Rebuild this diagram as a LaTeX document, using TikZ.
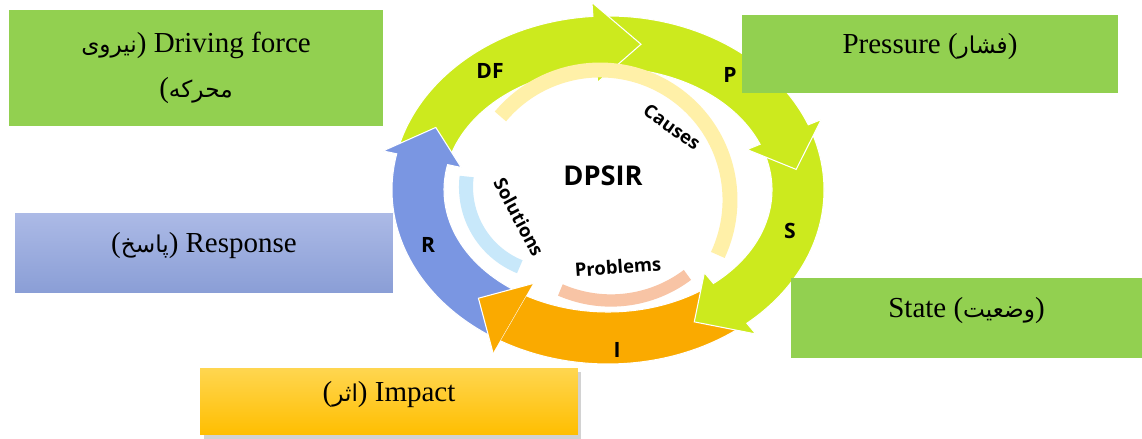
\documentclass[tikz,border=0pt]{standalone}
\usepackage{fontspec}
\setmainfont{Liberation Serif}
\newfontfamily\arabicfont[Script=Arabic,Scale=0.8]{DejaVu Sans}
\newfontfamily\ringfont{Open Sans}
\TeXXeTstate=1
\usetikzlibrary{shadows}
\newcommand{\fatext}[1]{{\arabicfont\beginR #1\endR}}

\definecolor{boxgreen}{RGB}{146,208,80}
\definecolor{ringlime}{RGB}{204,234,30}
\definecolor{ringblue}{RGB}{122,150,226}
\definecolor{ringorange}{RGB}{250,170,0}
\definecolor{causeband}{RGB}{255,240,168}
\definecolor{solveband}{RGB}{200,232,250}
\definecolor{problemband}{RGB}{248,196,165}

\begin{document}
\begin{tikzpicture}[x=0.02cm,y=0.02cm,
  box/.style={inner sep=0pt, align=center, font=\fontsize{16.5}{26}\selectfont},
  oneline/.style={box, text height=0.75em, text depth=0.75em},
  ringarrow/.style={draw=white, line width=0.6pt, line join=miter},
  ringlabel/.style={font=\ringfont\bfseries\fontsize{12}{12}\selectfont},
  innerlabel/.style={font=\ringfont\bfseries\fontsize{10.5}{10.5}\selectfont}]

  \fill[white] (0,0) rectangle (1142,439);
  \useasboundingbox (0,0) rectangle (1142,439);

% the five arrows of the cycle
  \begin{scope}[shift={(608,249)}]
    \foreach \a/\b/\c/\col in {-48/-120/-133/ringorange, 24/-50/-63/ringlime,
        96/22/8/ringlime, 170/94/80/ringlime, 240/168/155/ringblue}
      \filldraw[ringarrow, fill=\col] (\a:216 and 174)
        arc[start angle=\a, end angle=\b, x radius=216, y radius=174]
        -- (\b:230 and 188) -- (\c:190 and 148) -- (\b:150 and 108)
        -- (\b:164 and 122)
        arc[start angle=\b, end angle=\a, x radius=164, y radius=122] -- cycle;
    % head of I lies over the tail of R
    \fill[ringorange] (-120:230 and 188) -- (-133:190 and 148) -- (-120:150 and 108) -- cycle;
    \draw[ringarrow] (-120:230 and 188) -- (-133:190 and 148) -- (-120:150 and 108);
  \end{scope}

% inner bands
  \draw[causeband, line width=8.5pt] (600,239) ++(140:130) arc[start angle=140, end angle=-25, radius=130];
  \draw[solveband, line width=8pt] (552,252) ++(173:86) arc[start angle=173, end angle=248, radius=86];
  \draw[problemband, line width=7pt] (611,265.5) ++(246.5:127) arc[start angle=246.5, end angle=307, radius=127];

% labels on the ring
  \node[ringlabel] (df) at (490,368) {DF};
  \node[ringlabel] (p)  at (730,364) {P};
  \node[ringlabel] (s)  at (790,208) {S};
  \node[ringlabel] (i)  at (617,89)  {I};
  \node[ringlabel] (r)  at (428,194) {R};

  \node[font=\ringfont\bfseries\fontsize{15.5}{15.5}\selectfont] (dpsir) at (603,263) {DPSIR};
  \node[innerlabel, rotate=-35] (causes) at (672,312) {Causes};
  \node[innerlabel, rotate=-62] (solutions) at (519,222) {Solutions};
  \node[innerlabel, rotate=4] (problems) at (618,172) {Problems};

% the five boxes (sizes in cm, 1 unit = 0.02cm)
  \node[box, fill=boxgreen, minimum width=7.48cm, minimum height=2.32cm] (driving) at (196,371)
    {\fatext{نیروی}) Driving force\\(\fatext{محرکه}};
  \node[oneline, fill=boxgreen, minimum width=7.52cm, minimum height=1.56cm] (pressure) at (930,385)
    {Pressure (\fatext{فشار})};
  \node[oneline, top color={rgb,255:red,172;green,186;blue,230}, bottom color={rgb,255:red,138;green,158;blue,214},
    minimum width=7.56cm, minimum height=1.6cm] (response) at (204,186)
    {(\fatext{پاسخ}) Response};
  \node[oneline, fill=boxgreen, minimum width=7.02cm, minimum height=1.6cm] (state) at (966.5,121)
    {State (\fatext{وضعیت})};
  \node[oneline, top color={rgb,255:red,255;green,214;blue,80}, bottom color={rgb,255:red,255;green,190;blue,0},
    drop shadow={shadow xshift=2pt, shadow yshift=-2pt, opacity=0.35},
    minimum width=7.56cm, minimum height=1.34cm] (impact) at (389,37.5)
    {(\fatext{اثر}) Impact};

\end{tikzpicture}
\end{document}
